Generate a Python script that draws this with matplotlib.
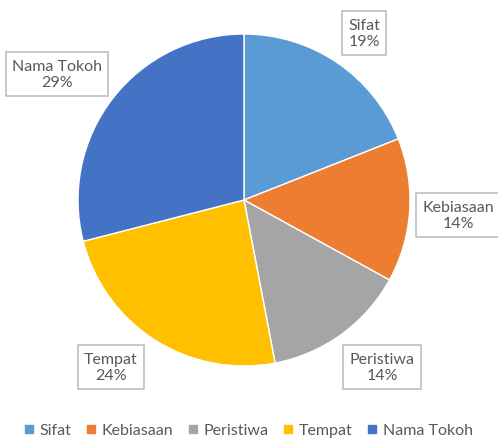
import matplotlib
matplotlib.use("Agg")
import matplotlib.pyplot as plt
from matplotlib.lines import Line2D

labels = ["Sifat", "Kebiasaan", "Peristiwa", "Tempat", "Nama Tokoh"]
values = [19, 14, 14, 24, 29]
colors = ["#5B9BD5", "#ED7D31", "#A5A5A5", "#FFC000", "#4472C4"]

W, H = 498, 439
TEXT = "#595959"
plt.rcParams["font.family"] = ["Lato", "DejaVu Sans"]

fig = plt.figure(figsize=(W / 100, H / 100), dpi=100, facecolor="white")
ax = fig.add_axes([0, 0, 1, 1])

ax.pie(values, colors=colors, startangle=90, counterclock=False,
       center=(244, H - 201), radius=166, frame=True,
       wedgeprops={"edgecolor": "white", "linewidth": 1.0})

# pie() resets the view, so fix the pixel-like data space afterwards
ax.set_xlim(0, W)
ax.set_ylim(0, H)
ax.set_aspect("equal")
ax.axis("off")

# label box centres in pixels (x, y from top)
box_pos = [(364, 34), (458, 216), (382, 368), (111, 368), (57, 75)]
for lab, val, (bx, by) in zip(labels, values, box_pos):
    ax.text(bx, H - by, f"{lab}\n{val}%", ha="center", va="center",
            fontsize=11.5, color=TEXT, linespacing=1.25,
            bbox={"boxstyle": "square,pad=0.4", "facecolor": "white",
                  "edgecolor": "#BFBFBF", "linewidth": 1.2})

handles = [Line2D([], [], marker="s", linestyle="none", markersize=5.5,
                  markerfacecolor=c, markeredgecolor=c) for c in colors]
fig.legend(handles, labels, loc="center", bbox_to_anchor=(0.5, 1 - 431 / H),
           ncol=5, frameon=False, fontsize=11.5, labelcolor=TEXT,
           handlelength=0.45, handletextpad=0.45, columnspacing=1.0)

fig.savefig("out.png", dpi=100, facecolor="white")
